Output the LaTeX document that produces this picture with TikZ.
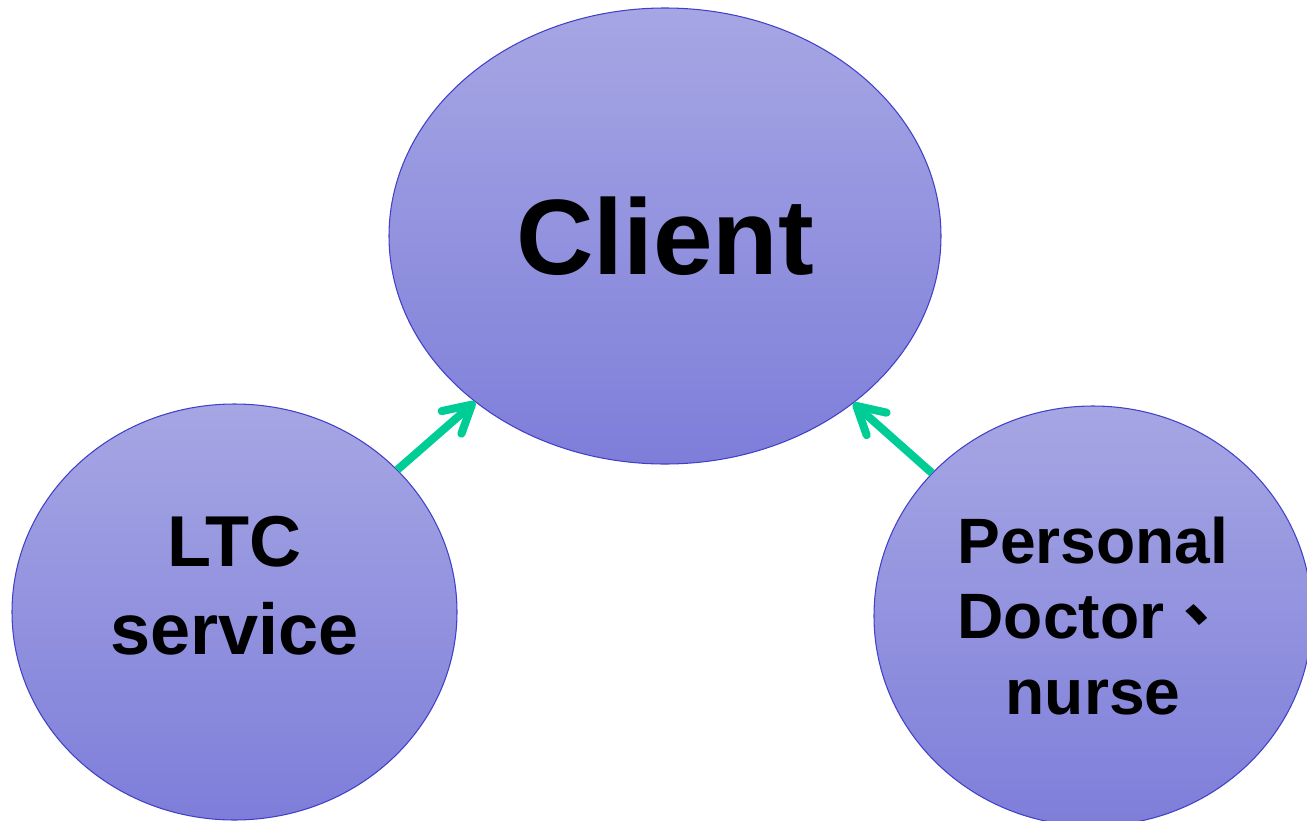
\documentclass[tikz,border=0pt]{standalone}
\usepackage{fontspec}
\setmainfont{Liberation Sans}
\newfontfamily\cjkfont{Noto Sans CJK TC}
\usetikzlibrary{shapes.geometric,arrows.meta}

\definecolor{bubbletop}{RGB}{166,166,228}
\definecolor{bubblebottom}{RGB}{126,126,218}
\definecolor{bubbleedge}{RGB}{64,64,200}
\definecolor{linkgreen}{RGB}{0,204,150}

\tikzset{
    bubble/.style={ellipse, draw=bubbleedge, line width=0.6pt, top color=bubbletop, bottom color=bubblebottom, inner sep=0pt},
    link/.style={linkgreen, line width=4.6pt, -{Straight Barb[length=5.4mm, width=6mm, round]}}
}

\begin{document}
\begin{tikzpicture}
    \useasboundingbox (0,0) rectangle (26.14,-16.42);
    \node[bubble, minimum width=11.04cm, minimum height=9.12cm, font=\bfseries\fontsize{61}{73}\selectfont] (client) at (13.3,-4.72) {Client};
    \node[bubble, minimum width=8.9cm, minimum height=8.32cm] (ltc) at (4.69,-12.24) {};
    \node[font=\bfseries\fontsize{41}{50}\selectfont, align=center] (ltclabel) at ([yshift=5.2mm]ltc.center) {LTC\\service};
    \node[bubble, minimum width=8.76cm, minimum height=8.4cm, font=\bfseries\fontsize{36.5}{43}\selectfont, align=center] (personal) at (21.86,-12.32) {Personal\\Doctor{\cjkfont 、}\\nurse};
    \draw[link] (ltc) -- (client);
    \draw[link] (personal) -- (client);
\end{tikzpicture}
\end{document}
